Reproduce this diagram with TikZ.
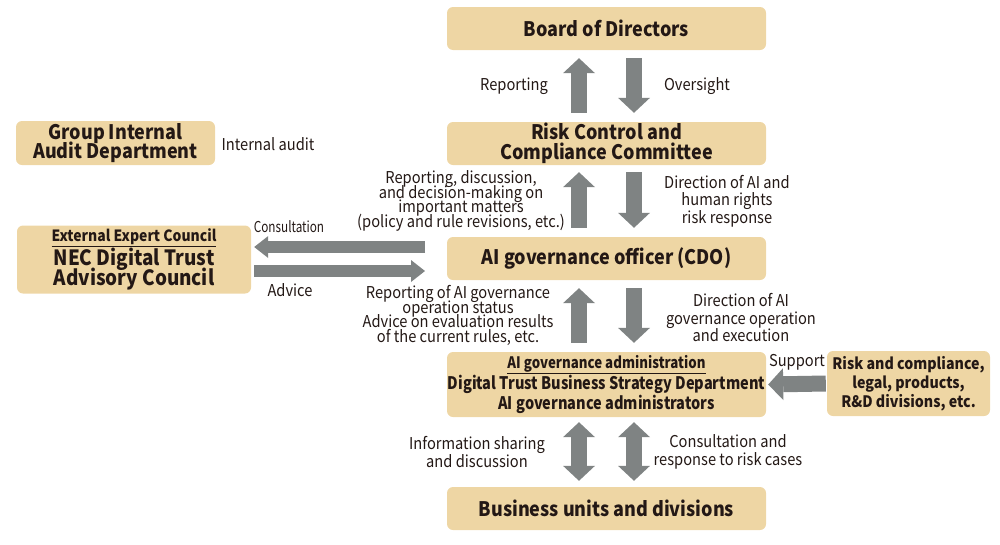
\documentclass[tikz,border=0pt]{standalone}
\usepackage{fontspec}
\setmainfont{Noto Sans CJK JP}[FakeStretch=0.9]
\newfontfamily\condfont{Noto Sans CJK JP}[FakeStretch=0.84]
\usetikzlibrary{arrows.meta}
\definecolor{boxfill}{HTML}{EED6A4}
\definecolor{arrgray}{HTML}{7F8383}
\definecolor{txt}{HTML}{231815}
\newcommand\tightlines{\setlength{\lineskiplimit}{-20pt}}
\tikzset{
 box/.style={fill=boxfill, rounded corners=6pt, inner sep=0pt, align=center, text=txt,
   font=\bfseries\fontsize{20}{19.5}\selectfont\tightlines},
 lbl/.style={text=txt, align=center, inner sep=0pt, font=\fontsize{16.3}{17.5}\selectfont\tightlines},
 lbltight/.style={lbl, font=\fontsize{16.3}{14.5}\selectfont\tightlines},
 bigarrow/.style={draw=arrgray, line width=16pt, -{Triangle[width=32pt,length=15pt,line width=0pt]}},
 smallarrow/.style={draw=arrgray, line width=12pt, -{Triangle[width=22pt,length=14pt,line width=0pt]}},
 dblarrow/.style={draw=arrgray, line width=16pt,
   {Triangle[width=32pt,length=15pt,line width=0pt]}-{Triangle[width=32pt,length=15pt,line width=0pt]}},
}
\begin{document}
\begin{tikzpicture}[x=1pt,y=-1pt]
\useasboundingbox (0,0) rectangle (1000,544);
% boxes
\node[box, minimum width=319pt, minimum height=43pt] (board) at (606.5,28.5) {Board of Directors};
\node[box, minimum width=319pt, minimum height=43pt] (rcc) at (606.5,143.5) {Risk Control and\\Compliance Committee};
\node[box, minimum width=199pt, minimum height=44pt] (gia) at (115.5,143) {Group Internal\\Audit Department};
\node[box, minimum width=234pt, minimum height=68pt, font=\bfseries\fontsize{21}{20.5}\selectfont\tightlines] (ext) at (134,259.5)
  {{\fontsize{15.5}{16}\selectfont\underline{External Expert Council}}\\[3pt]NEC Digital Trust\\Advisory Council};
\node[box, minimum width=319pt, minimum height=43pt] (cdo) at (606.5,258.5) {AI governance officer (CDO)};
\node[box, minimum width=319pt, minimum height=65pt, font=\condfont\bfseries\fontsize{17.3}{20}\selectfont\tightlines] (adm) at (606.5,384.5)
  {{\fontsize{15.8}{16}\selectfont\underline{AI governance administration}}\\[1pt]Digital Trust Business Strategy Department\\AI governance administrators};
\node[box, minimum width=163pt, minimum height=65pt, font=\bfseries\fontsize{15.8}{19}\selectfont\tightlines] (rcl) at (908.5,383.5)
  {Risk and compliance,\\legal, products,\\R\&D divisions, etc.};
\node[box, minimum width=319pt, minimum height=43pt] (bud) at (606.5,508.5) {Business units and divisions};
% vertical arrows
\draw[bigarrow] ([xshift=-27.5pt,yshift=9pt]rcc.north) -- ([xshift=-27.5pt,yshift=-8pt]board.south);
\draw[bigarrow] ([xshift=27.5pt,yshift=-8pt]board.south) -- ([xshift=27.5pt,yshift=9pt]rcc.north);
\draw[bigarrow] ([xshift=-27.5pt,yshift=9pt]cdo.north) -- ([xshift=-27.5pt,yshift=-7pt]rcc.south);
\draw[bigarrow] ([xshift=27.5pt,yshift=-7pt]rcc.south) -- ([xshift=27.5pt,yshift=9pt]cdo.north);
\draw[bigarrow] ([xshift=-27.5pt,yshift=9pt]adm.north) -- ([xshift=-27.5pt,yshift=-8pt]cdo.south);
\draw[bigarrow] ([xshift=27.5pt,yshift=-8pt]cdo.south) -- ([xshift=27.5pt,yshift=9pt]adm.north);
\draw[dblarrow] ([xshift=-27.5pt,yshift=-5pt]adm.south) -- ([xshift=-27.5pt,yshift=6pt]bud.north);
\draw[dblarrow] ([xshift=27.5pt,yshift=-5pt]adm.south) -- ([xshift=27.5pt,yshift=6pt]bud.north);
% horizontal arrows
\coordinate (cL) at (425,247);
\coordinate (cR) at (425,271);
\draw[smallarrow] (cL) -- ([xshift=3pt]ext.east |- cL);
\draw[smallarrow] ([xshift=3pt]ext.east |- cR) -- (cR);
\draw[bigarrow] ([xshift=-1pt]rcl.west) -- ([xshift=2pt]adm.east);
% labels
\node[lbl] (l1) at (514,86) {Reporting};
\node[lbl] (l2) at (697,86) {Oversight};
\node[lbl] (l3) at (268,144) {Internal audit};
\node[lbltight] (l4) at (461,201) {Reporting, discussion,\\and decision-making on\\important matters\\(policy and rule revisions, etc.)};
\node[lbl] (l5) at (727,201) {Direction of AI and\\human rights\\risk response};
\node[lbl, font=\fontsize{15}{15}\selectfont] (l6) at (289,227) {\scalebox{0.87}[1]{Consultation}};
\node[lbl] (l7) at (290,290) {Advice};
\node[lbltight] (l8) at (458,315.5) {Reporting of AI governance\\operation status\\Advice on evaluation results\\of the current rules, etc.};
\node[lbl] (l9) at (741,318) {Direction of AI\\governance operation\\and execution};
\node[lbl] (l10) at (797,362) {Support};
\node[lbl] (l11) at (477,452) {Information sharing\\and discussion};
\node[lbl] (l12) at (728,452) {Consultation and\\response to risk cases};
\end{tikzpicture}
\end{document}
